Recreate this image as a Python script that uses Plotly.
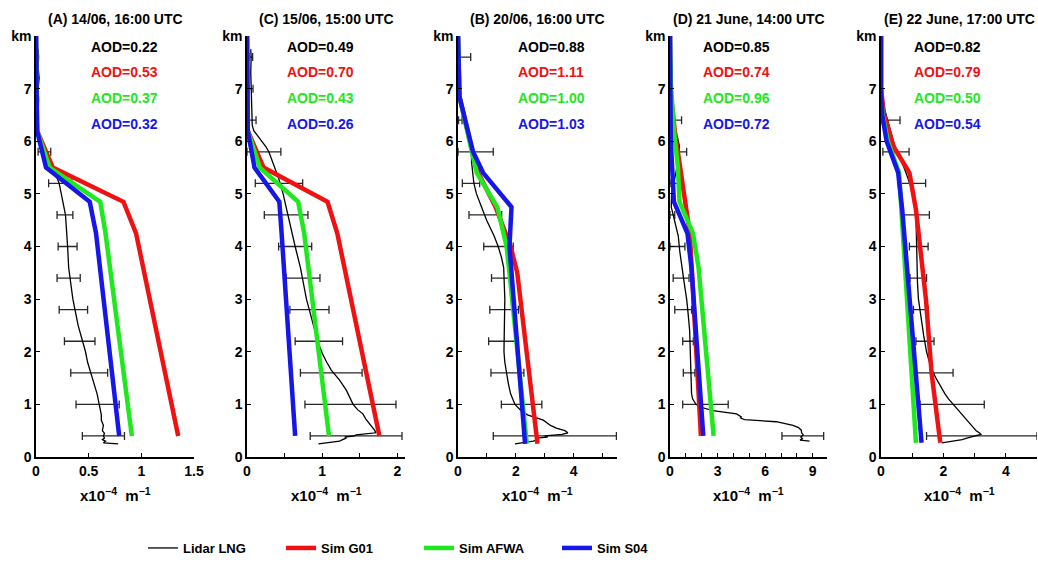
import plotly.graph_objects as go

# ---------------- Panel titles / ranges ----------------
titles = ["(A) 14/06, 16:00 UTC", "(C) 15/06, 15:00 UTC", "(B) 20/06, 16:00 UTC",
          "(D) 21 June, 14:00 UTC", "(E) 22 June, 17:00 UTC"]
x_max = [1.5, 2.1, 5.5, 9.9, 5.0]
x_dtick = [0.5, 1, 2, 3, 2]
x_minor = [0.5, 0.5, 1, 1, 1]
aod_lidar = ["0.22", "0.49", "0.88", "0.85", "0.82"]
aod_g01 = ["0.53", "0.70", "1.11", "0.74", "0.79"]
aod_afwa = ["0.37", "0.43", "1.00", "0.96", "0.50"]
aod_s04 = ["0.32", "0.26", "1.03", "0.72", "0.54"]
y_ticks = [0, 1, 2, 3, 4, 5, 6, 7, 8]
y_ticktext = ["0", "1", "2", "3", "4", "5", "6", "7", "km"]

# ---------------- Panel A ----------------
A_lid_z = [0.25, 0.27, 0.30, 0.33, 0.36, 0.40, 0.45, 0.50, 0.60, 0.70, 0.80, 0.90, 1.0, 1.2, 1.4, 1.6, 1.8, 2.0,
           2.2, 2.5, 2.8, 3.0, 3.3, 3.6, 4.0, 4.3, 4.6, 5.0, 5.2, 5.35, 5.5, 5.6, 5.7, 5.8, 5.9, 6.0, 6.2, 6.5,
           6.8, 7.0, 7.2, 7.4, 7.6, 7.75]
A_lid_x = [0.78, 0.64, 0.66, 0.63, 0.65, 0.64, 0.65, 0.63, 0.64, 0.62, 0.62, 0.61, 0.60, 0.58, 0.55, 0.52, 0.49,
           0.47, 0.44, 0.40, 0.37, 0.35, 0.33, 0.31, 0.30, 0.29, 0.28, 0.24, 0.22, 0.19, 0.15, 0.12, 0.09, 0.07,
           0.05, 0.03, 0.025, 0.02, 0.025, 0.02, 0.03, 0.02, 0.025, 0.02]
A_err_z = [5.8, 5.2, 4.6, 4.0, 3.4, 2.8, 2.2, 1.6, 1.0, 0.4]
A_err_lo = [0.02, 0.12, 0.20, 0.21, 0.20, 0.22, 0.27, 0.33, 0.38, 0.44]
A_err_hi = [0.14, 0.34, 0.35, 0.39, 0.42, 0.49, 0.56, 0.68, 0.79, 0.84]
A_red_z = [8.0, 6.8, 6.2, 5.5, 4.85, 4.25, 0.4]
A_red_x = [0.0, 0.005, 0.01, 0.16, 0.83, 0.95, 1.35]
A_grn_z = [8.0, 6.8, 6.2, 5.5, 4.85, 4.25, 0.4]
A_grn_x = [0.0, 0.005, 0.01, 0.13, 0.61, 0.66, 0.91]
A_blu_z = [8.0, 6.8, 6.2, 5.5, 4.85, 4.25, 0.4]
A_blu_x = [0.0, 0.005, 0.01, 0.095, 0.51, 0.57, 0.79]

# ---------------- Panel C ----------------
C_lid_z = [0.25, 0.27, 0.30, 0.33, 0.36, 0.38, 0.40, 0.42, 0.46, 0.50, 0.63, 0.72, 0.82, 0.90, 1.0, 1.1, 1.27,
           1.46, 1.65, 1.8, 1.97, 2.2, 2.5, 2.8, 3.0, 3.3, 3.6, 4.0, 4.3, 4.6, 5.0, 5.3, 5.5, 5.7, 5.8, 5.9, 6.0,
           6.1, 6.2, 6.3, 6.5, 6.8, 7.0, 7.3, 7.6, 7.75]
C_lid_x = [0.95, 1.10, 1.23, 1.27, 1.32, 1.30, 1.43, 1.45, 1.71, 1.70, 1.63, 1.58, 1.54, 1.47, 1.41, 1.38, 1.32,
           1.23, 1.12, 1.06, 1.00, 0.94, 0.88, 0.82, 0.79, 0.75, 0.71, 0.64, 0.59, 0.55, 0.48, 0.42, 0.37, 0.32,
           0.29, 0.25, 0.20, 0.14, 0.09, 0.07, 0.065, 0.06, 0.05, 0.05, 0.055, 0.05]
C_err_z = [7.6, 7.0, 6.4, 5.8, 5.2, 4.6, 4.0, 3.4, 2.8, 2.2, 1.6, 1.0, 0.4]
C_err_lo = [0.03, 0.03, 0.02, 0.00, 0.11, 0.23, 0.42, 0.52, 0.57, 0.64, 0.71, 0.77, 0.84]
C_err_hi = [0.075, 0.08, 0.12, 0.45, 0.74, 0.81, 0.86, 0.97, 1.09, 1.27, 1.53, 1.98, 2.06]
C_red_z = [8.0, 6.8, 6.2, 5.5, 4.85, 4.25, 0.4]
C_red_x = [0.0, 0.005, 0.01, 0.22, 1.07, 1.20, 1.76]
C_grn_z = [8.0, 6.8, 6.2, 5.5, 4.85, 4.25, 0.4]
C_grn_x = [0.0, 0.005, 0.01, 0.17, 0.68, 0.76, 1.09]
C_blu_z = [8.0, 6.8, 6.2, 5.5, 4.85, 4.25, 0.4]
C_blu_x = [0.0, 0.005, 0.01, 0.10, 0.43, 0.46, 0.64]

# ---------------- Panel B ----------------
B_lid_z = [0.25, 0.27, 0.30, 0.33, 0.36, 0.38, 0.40, 0.43, 0.46, 0.50, 0.55, 0.60, 0.70, 0.80, 0.90, 1.0, 1.2,
           1.4, 1.6, 1.8, 2.0, 2.3, 2.6, 3.0, 3.3, 3.6, 3.8, 4.0, 4.2, 4.5, 4.8, 5.0, 5.2, 5.4, 5.6, 5.8, 6.0,
           6.2, 6.4, 6.6, 6.8, 7.0, 7.3, 7.6, 7.75]
B_lid_x = [1.97, 2.30, 2.60, 2.80, 2.70, 3.10, 3.00, 3.60, 3.80, 3.70, 3.40, 3.20, 2.95, 2.40, 2.15, 1.97, 1.82,
           1.74, 1.68, 1.62, 1.59, 1.60, 1.61, 1.62, 1.60, 1.58, 1.50, 1.39, 1.25, 0.99, 0.78, 0.64, 0.55, 0.50,
           0.47, 0.46, 0.42, 0.30, 0.20, 0.12, 0.05, 0.02, 0.02, 0.02, 0.02]
B_err_z = [7.6, 6.4, 5.8, 5.2, 4.6, 4.0, 3.4, 2.8, 2.2, 1.6, 1.0, 0.4]
B_err_lo = [0.06, 0.02, 0.00, 0.15, 0.38, 0.89, 1.16, 1.10, 1.06, 1.14, 1.50, 1.22]
B_err_hi = [0.44, 0.14, 1.22, 0.75, 1.51, 1.91, 1.91, 2.09, 2.09, 2.28, 2.90, 5.48]
B_red_z = [8.0, 6.85, 5.8, 5.4, 4.75, 4.0, 3.5, 0.25]
B_red_x = [0.0, 0.05, 0.50, 0.70, 1.30, 1.82, 2.05, 2.75]
B_grn_z = [8.0, 6.85, 5.8, 5.4, 4.75, 4.0, 3.5, 0.25]
B_grn_x = [0.0, 0.05, 0.48, 0.65, 1.36, 1.68, 1.78, 2.38]
B_blu_z = [8.0, 6.85, 5.8, 5.4, 4.75, 4.0, 0.25]
B_blu_x = [0.0, 0.05, 0.52, 0.87, 1.85, 1.78, 2.32]

# ---------------- Panel D ----------------
D_lid_z = [0.30, 0.32, 0.35, 0.38, 0.42, 0.46, 0.51, 0.56, 0.60, 0.67, 0.71, 0.74, 0.76, 0.82, 0.88, 0.95, 1.0,
           1.1, 1.2, 1.5, 1.8, 2.1, 2.4, 2.7, 3.0, 3.3, 3.6, 3.9, 4.2, 4.4, 4.6, 4.75, 5.0, 5.3, 5.6, 5.9, 6.1,
           6.2, 6.3, 6.5, 6.8, 7.0, 7.3, 7.6, 7.75]
D_lid_x = [8.8, 8.2, 8.35, 8.25, 8.4, 8.3, 8.28, 8.1, 7.76, 6.7, 4.7, 4.45, 4.5, 4.2, 2.7, 1.9, 1.64, 1.43, 1.36,
           1.32, 1.30, 1.28, 1.24, 1.15, 1.05, 0.90, 0.75, 0.62, 0.52, 0.35, 0.18, 0.08, 0.10, 0.30, 0.50, 0.60,
           0.45, 0.30, 0.15, 0.06, 0.03, 0.02, 0.02, 0.02, 0.02]
D_err_z = [6.4, 5.8, 5.2, 4.6, 4.0, 3.4, 2.8, 2.2, 1.6, 1.0, 0.4]
D_err_lo = [0.20, 0.46, 0.00, 0.00, 0.00, 0.20, 0.30, 0.80, 0.84, 0.80, 7.06]
D_err_hi = [0.73, 1.05, 0.84, 0.30, 0.94, 1.20, 1.36, 1.47, 1.57, 3.67, 9.69]
D_red_z = [8.0, 7.0, 6.2, 5.5, 5.1, 4.25, 0.4]
D_red_x = [0.0, 0.02, 0.30, 0.65, 0.80, 1.25, 1.95]
D_grn_z = [8.0, 7.1, 6.2, 5.5, 4.85, 4.25, 3.6, 0.4]
D_grn_x = [0.0, 0.05, 0.25, 0.50, 0.60, 1.45, 1.80, 2.75]
D_blu_z = [8.0, 6.5, 6.0, 4.85, 4.25, 3.6, 0.4]
D_blu_x = [0.0, 0.0, 0.05, 0.25, 1.10, 1.35, 2.10]

# ---------------- Panel E ----------------
E_lid_z = [0.27, 0.30, 0.33, 0.36, 0.40, 0.43, 0.46, 0.50, 0.60, 0.70, 0.80, 0.90, 1.0, 1.1, 1.2, 1.35, 1.5, 1.7,
           2.0, 2.3, 2.6, 3.0, 3.3, 3.6, 4.0, 4.3, 4.6, 5.0, 5.2, 5.4, 5.6, 5.8, 6.0, 6.2, 6.4, 6.6, 6.8, 7.0,
           7.4, 7.75]
E_lid_x = [1.95, 2.30, 2.60, 2.75, 3.00, 3.20, 3.15, 3.05, 2.90, 2.75, 2.60, 2.45, 2.30, 2.17, 2.05, 1.90, 1.76,
           1.60, 1.46, 1.37, 1.30, 1.20, 1.17, 1.16, 1.16, 1.14, 1.12, 1.04, 0.93, 0.80, 0.67, 0.50, 0.40, 0.30,
           0.20, 0.12, 0.04, 0.02, 0.02, 0.02]
E_err_z = [6.4, 5.8, 5.2, 4.6, 4.0, 3.4, 2.8, 2.2, 1.6, 1.0, 0.4]
E_err_lo = [0.00, 0.06, 0.56, 0.67, 0.91, 0.93, 1.04, 1.12, 0.95, 1.25, 1.46]
E_err_hi = [0.61, 0.90, 1.43, 1.55, 1.51, 1.46, 1.51, 1.70, 2.31, 3.31, 5.00]
E_red_z = [8.0, 7.0, 6.5, 5.9, 5.4, 4.7, 3.0, 1.6, 0.27]
E_red_x = [0.0, 0.0, 0.10, 0.40, 0.91, 1.12, 1.44, 1.62, 1.90]
E_grn_z = [8.0, 7.0, 6.5, 6.0, 5.4, 4.7, 0.27]
E_grn_x = [0.0, 0.0, 0.05, 0.22, 0.58, 0.65, 1.12]
E_blu_z = [8.0, 7.0, 6.5, 6.0, 5.4, 4.7, 0.27]
E_blu_x = [0.0, 0.0, 0.04, 0.18, 0.55, 0.68, 1.30]

# ---------------- Styling ----------------
RED = "rgb(240,18,18)"
GREEN = "rgb(30,232,30)"
BLUE = "rgb(22,22,235)"
FONT = "Liberation Sans, Arial, Helvetica, sans-serif"
W, H = 1038, 567
panel_px = [(36, 194), (247, 405), (458, 617), (670, 827), (881, 1037)]
y_dom = [1 - 457 / H, 1 - 36 / H]
aod_xpos = [0.335, 0.24, 0.365, 0.2, 0.2]
title_pos = [(0.5, "center"), (0.5, "center"), (0.5, "center"), (0.5, "center"), (1.0, "right")]

panels = [
    (A_lid_x, A_lid_z, A_err_z, A_err_lo, A_err_hi, A_red_x, A_red_z, A_grn_x, A_grn_z, A_blu_x, A_blu_z),
    (C_lid_x, C_lid_z, C_err_z, C_err_lo, C_err_hi, C_red_x, C_red_z, C_grn_x, C_grn_z, C_blu_x, C_blu_z),
    (B_lid_x, B_lid_z, B_err_z, B_err_lo, B_err_hi, B_red_x, B_red_z, B_grn_x, B_grn_z, B_blu_x, B_blu_z),
    (D_lid_x, D_lid_z, D_err_z, D_err_lo, D_err_hi, D_red_x, D_red_z, D_grn_x, D_grn_z, D_blu_x, D_blu_z),
    (E_lid_x, E_lid_z, E_err_z, E_err_lo, E_err_hi, E_red_x, E_red_z, E_grn_x, E_grn_z, E_blu_x, E_blu_z),
]

fig = go.Figure()
layout = dict(
    width=W, height=H, margin=dict(l=0, r=0, t=0, b=0, pad=0, autoexpand=False),
    paper_bgcolor="white", plot_bgcolor="white",
    font=dict(family=FONT, size=14, color="black"),
    showlegend=True,
    legend=dict(orientation="h", x=143 / W, y=1 - 548 / H, xanchor="left", yanchor="middle",
                entrywidth=93, entrywidthmode="pixels",
                font=dict(family=FONT, size=13, color="black", weight="bold"),
                bgcolor="rgba(0,0,0,0)"),
)
annotations = []

for i, p in enumerate(panels):
    lid_x, lid_z, err_z, err_lo, err_hi, rx, rz, gx, gz, bx, bz = p
    sfx = "" if i == 0 else str(i + 1)
    xa, ya = "x" + sfx, "y" + sfx
    first = i == 0
    err_c = [(lo + hi) / 2 for lo, hi in zip(err_lo, err_hi)]
    err_h = [(hi - lo) / 2 for lo, hi in zip(err_lo, err_hi)]
    fig.add_trace(go.Scatter(x=err_c, y=err_z, mode="markers", xaxis=xa, yaxis=ya,
                             marker=dict(size=1, color="rgba(0,0,0,0)"),
                             error_x=dict(type="data", array=err_h, color="rgb(40,40,40)",
                                          thickness=1.3, width=4),
                             showlegend=False, hoverinfo="skip", cliponaxis=False))
    fig.add_trace(go.Scatter(x=lid_x, y=lid_z, mode="lines", xaxis=xa, yaxis=ya,
                             line=dict(color="black", width=1.3), name="Lidar LNG",
                             showlegend=first, legendrank=1))
    fig.add_trace(go.Scatter(x=rx, y=rz, mode="lines", xaxis=xa, yaxis=ya,
                             line=dict(color=RED, width=4.5), name="Sim G01",
                             showlegend=first, legendrank=2))
    fig.add_trace(go.Scatter(x=gx, y=gz, mode="lines", xaxis=xa, yaxis=ya,
                             line=dict(color=GREEN, width=4.5), name="Sim AFWA",
                             showlegend=first, legendrank=3))
    fig.add_trace(go.Scatter(x=bx, y=bz, mode="lines", xaxis=xa, yaxis=ya,
                             line=dict(color=BLUE, width=4.5), name="Sim S04",
                             showlegend=first, legendrank=4))

    x0, x1 = panel_px[i]
    layout["xaxis" + sfx] = dict(
        domain=[x0 / W, min(1.0, x1 / W)], anchor=ya, range=[0, x_max[i]], automargin=False,
        showline=True, linecolor="black", linewidth=1.5, showgrid=False, zeroline=False,
        ticks="inside", ticklen=4, tickwidth=1.2, tickcolor="black",
        dtick=x_dtick[i], tick0=0,
        minor=dict(dtick=x_minor[i], tick0=0, ticks="inside", ticklen=4, tickwidth=1.2, tickcolor="black"),
        tickfont=dict(family=FONT, size=14, weight="bold"),
    )
    layout["yaxis" + sfx] = dict(
        domain=y_dom, anchor=xa, range=[0, 8], automargin=False,
        showline=True, linecolor="black", linewidth=1.5, showgrid=False, zeroline=False,
        ticks="inside", ticklen=4, tickwidth=1.2, tickcolor="black",
        tickvals=y_ticks, ticktext=y_ticktext,
        tickfont=dict(family=FONT, size=14, weight="bold"),
    )
    tx, tanc = title_pos[i]
    annotations.append(dict(text=titles[i], xref=xa + " domain", yref="paper", x=tx, y=1 - 19 / H,
                            xanchor=tanc, yanchor="middle", showarrow=False,
                            font=dict(family=FONT, size=14, weight="bold", color="black")))
    annotations.append(dict(text="x10<sup>−4</sup>  m<sup>−1</sup>", xref=xa + " domain", yref="paper",
                            x=0.5, y=1 - 494 / H, xanchor="center", yanchor="middle", showarrow=False,
                            font=dict(family=FONT, size=15, weight="bold", color="black")))
    for val, col, yy in [(aod_lidar[i], "black", 7.79), (aod_g01[i], RED, 7.31),
                         (aod_afwa[i], GREEN, 6.82), (aod_s04[i], BLUE, 6.32)]:
        annotations.append(dict(text="AOD=" + val, xref=xa + " domain", yref=ya, x=aod_xpos[i], y=yy,
                                xanchor="left", yanchor="middle", showarrow=False,
                                font=dict(family=FONT, size=14, weight="bold", color=col)))

layout["annotations"] = annotations
fig.update_layout(**layout)
# remove the default 8px page margin so the figure fills the window exactly
fig.write_html("out.html", config={"displayModeBar": False},
               post_script="document.body.style.margin='0';document.body.style.overflow='hidden';")
